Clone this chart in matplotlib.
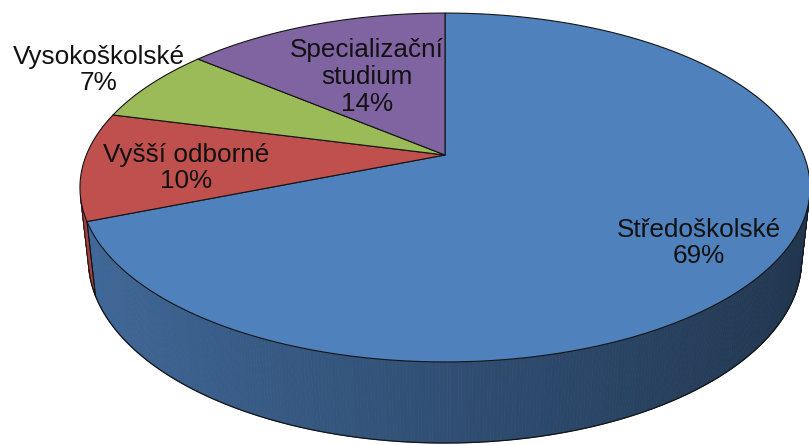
import numpy as np
import matplotlib.pyplot as plt
from matplotlib.patches import Polygon

# education level of staff
labels = ['Středoškolské', 'Vyšší odborné', 'Vysokoškolské', 'Specializační\nstudium']
shares = [69, 10, 7, 14]
colors = ['#4F81BD', '#C0504D', '#9BBB59', '#8064A2']

# where the label text goes (pixels)
label_xy = [(699, 243), (186, 168), (99, 70), (367, 77)]

# perspective camera for the 3d pie
tilt = np.radians(28.0)
s, c = np.sin(tilt), np.cos(tilt)
dist = 4.74
focal = 1700.0
thick = 0.229
cx, cy = 445, 155


def project(a, h=0.0):
    u = np.sin(a)
    v = np.cos(a)
    yc = v * s + h * c
    zc = dist + v * c - h * s
    return cx + focal * u / zc, cy - focal * yc / zc


def shade(col, k):
    rgb = np.array(plt.matplotlib.colors.to_rgb(col))
    return tuple(np.clip(rgb * k, 0, 1))


fig = plt.figure(figsize=(8.09, 4.45), dpi=100)
ax = fig.add_axes([0, 0, 1, 1])
ax.set_xlim(0, 809)
ax.set_ylim(445, 0)
ax.axis('off')

frac = np.array(shares, dtype=float) / sum(shares)
edges = np.concatenate([[0], np.cumsum(frac)]) * 2 * np.pi

# visible part of the side wall
a_lo = np.arccos(-1.0 / (dist * c))
a_hi = 2 * np.pi - a_lo

line_col = '#141414'

for i, col in enumerate(colors):
    a0 = max(edges[i], a_lo)
    a1 = min(edges[i + 1], a_hi)
    if a1 <= a0:
        continue
    aa = np.linspace(a0, a1, max(int((a1 - a0) * 120), 4))
    for j in range(len(aa) - 1):
        t0 = project(aa[j])
        t1 = project(aa[j + 1])
        b1 = project(aa[j + 1], -thick)
        b0 = project(aa[j], -thick)
        am = 0.5 * (aa[j] + aa[j + 1])
        k = 0.61 - 0.21 * np.sin(am)
        fc = shade(col, k)
        ax.add_patch(Polygon([t0, t1, b1, b0], closed=True, facecolor=fc,
                             edgecolor=fc, linewidth=0.6, zorder=1))
    bx, by = project(aa, -thick)
    ax.plot(bx, by, color=line_col, lw=0.9, zorder=2)
    for a in (a0, a1):
        tx, ty = project(a)
        qx, qy = project(a, -thick)
        ax.plot([tx, qx], [ty, qy], color=line_col, lw=0.7, zorder=2)

# top face of every slice
for i, col in enumerate(colors):
    aa = np.linspace(edges[i], edges[i + 1], max(int((edges[i + 1] - edges[i]) * 120), 4))
    px, py = project(aa)
    pts = [(cx, cy)] + list(zip(px, py))
    ax.add_patch(Polygon(pts, closed=True, facecolor=col, edgecolor=line_col,
                         linewidth=0.8, joinstyle='round', zorder=3))

for (x, y), lab, val in zip(label_xy, labels, shares):
    ax.text(x, y, f'{lab}\n{val}%', ha='center', va='center', fontsize=18.8,
            family='Liberation Sans', color='#111111', linespacing=1.15, zorder=5)

fig.savefig('out.png', dpi=100)
